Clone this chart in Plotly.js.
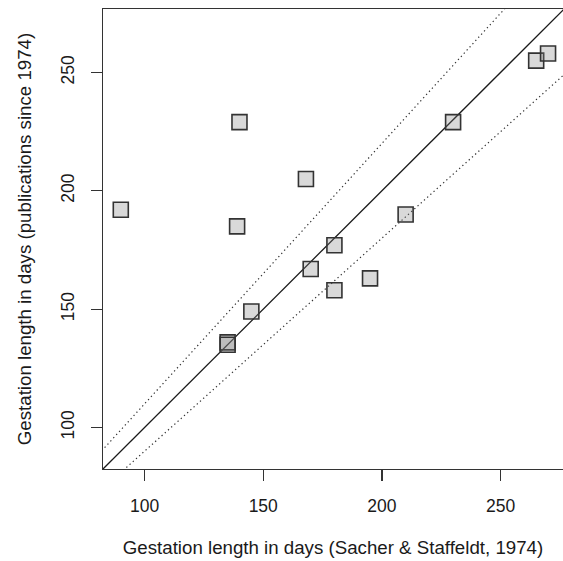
<!DOCTYPE html>
<html>
<head>
<meta charset="utf-8">
<script src="https://cdn.plot.ly/plotly-3.0.1.min.js"></script>
<style>
html,body{margin:0;padding:0;overflow:hidden;background:#fff;}
#chart{width:563px;height:561px;}
</style>
</head>
<body>
<div id="chart"></div>
<script>
// Gestation length (days): Sacher & Staffeldt 1974 vs publications since 1974
const sacherDays = [90, 139, 140, 168, 230, 265, 270, 210, 180, 170, 195, 180, 145, 135, 135];
const publishedDays = [192, 185, 229, 205, 229, 255, 258, 190, 177, 167, 163, 158, 149, 136, 135];
// reference lines: y = ratio * x
const lineRatios = [1, 1.1, 0.9];
const lineDash = ['solid', '1.3px,3px', '1.3px,3px'];
const tickValues = [100, 150, 200, 250];

const axisRange = [82.5, 276.8];
const xRange = [82.5, 276.3];
const lineX = [60, 300];

const traces = lineRatios.map((r, i) => ({
  x: lineX,
  y: lineX.map(v => v * r),
  mode: 'lines',
  line: {color: i === 0 ? '#1a1a1a' : '#333', width: i === 0 ? 1.3 : 1.2, dash: lineDash[i]},
  hoverinfo: 'skip',
  showlegend: false
}));

traces.push({
  x: sacherDays,
  y: publishedDays,
  mode: 'markers',
  marker: {
    symbol: 'square',
    size: 15,
    color: 'rgba(128,128,128,0.3)',
    line: {color: '#333', width: 1.6}
  },
  showlegend: false
});

const tickFont = {family: 'Liberation Sans, Arial, sans-serif', size: 17.5, color: '#1a1a1a'};
const titleFont = {family: 'Liberation Sans, Arial, sans-serif', size: 18.7, color: '#1a1a1a'};

const layout = {
  width: 563,
  height: 561,
  margin: {l: 103, r: 0, t: 9, b: 92},
  paper_bgcolor: '#fff',
  plot_bgcolor: '#fff',
  font: tickFont,
  xaxis: {
    range: xRange,
    tickvals: tickValues,
    tickfont: tickFont,
    ticks: 'outside',
    ticklen: 11,
    tickwidth: 1.2,
    tickcolor: '#333',
    showline: true,
    mirror: true,
    linecolor: '#333',
    linewidth: 1.3,
    showgrid: false,
    zeroline: false,
    ticklabelstandoff: 10,
    title: {text: 'Gestation length in days (Sacher &amp; Staffeldt, 1974)', font: titleFont, standoff: 25},
    automargin: false
  },
  yaxis: {
    range: axisRange,
    tickvals: tickValues,
    tickfont: tickFont,
    ticks: 'outside',
    ticklen: 11,
    tickwidth: 1.2,
    tickcolor: '#333',
    tickangle: -90,
    showline: true,
    linecolor: '#333',
    linewidth: 1.3,
    showgrid: false,
    zeroline: false,
    ticklabelstandoff: 10,
    title: {text: 'Gestation length in days (publications since 1974)', font: titleFont, standoff: 21},
    automargin: false
  }
};

Plotly.newPlot('chart', traces, layout, {displayModeBar: false, staticPlot: true});
</script>
</body>
</html>
